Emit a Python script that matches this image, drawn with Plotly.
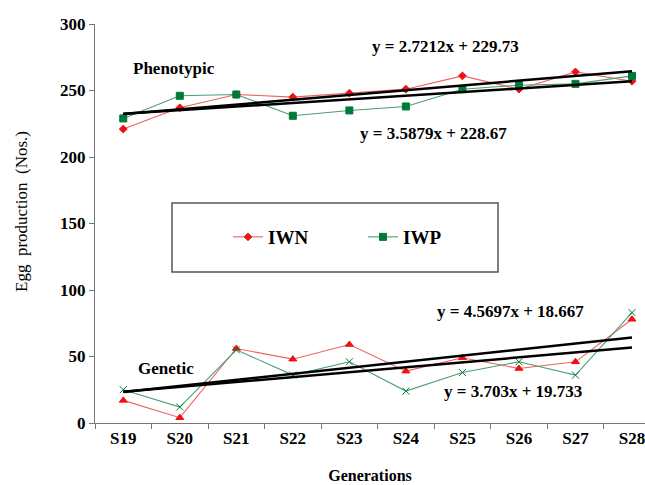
import plotly.graph_objects as go
import numpy as np

generations = ["S19", "S20", "S21", "S22", "S23", "S24", "S25", "S26", "S27", "S28"]
pheno_iwn = [221, 237, 247, 245, 248, 251, 261, 251, 264, 257]
pheno_iwp = [229, 246, 247, 231, 235, 238, 251, 254, 255, 261]
gen_iwn = [17, 4, 56, 48, 59, 39, 49, 41, 46, 78]
gen_iwp = [25, 12, 55, 36, 46, 24, 38, 46, 36, 83]

# trendline coefficients (slope, intercept) as printed on the chart
trend_pheno_iwn = (3.5879, 228.67)
trend_pheno_iwp = (2.7212, 229.73)
trend_gen_iwn = (4.5697, 18.667)
trend_gen_iwp = (3.703, 19.733)

RED_LINE = "#f06060"
RED_MK = "#ee1111"
GREEN_LINE = "#4aa070"
GREEN_MK = "#007a3a"
FONT = "Liberation Serif"

fig = go.Figure()

def add_series(y, name, lc, mc, symbol, size, show):
    fig.add_trace(go.Scatter(
        x=generations, y=y, name=name, mode="lines+markers",
        line=dict(color=lc, width=1.1),
        marker=dict(color=mc, symbol=symbol, size=size,
                    line=dict(color=mc, width=1)),
        showlegend=show,
    ))

add_series(pheno_iwn, "<b>IWN</b>", RED_LINE, RED_MK, "diamond", 6, True)
add_series(pheno_iwp, "<b>IWP</b>", GREEN_LINE, GREEN_MK, "square", 7, True)
add_series(gen_iwn, "IWN gen", RED_LINE, RED_MK, "triangle-up", 7, False)
add_series(gen_iwp, "IWP gen", GREEN_LINE, GREEN_MK, "x-thin", 7, False)

xs = np.arange(1, len(generations) + 1)
for (m, c) in [trend_pheno_iwn, trend_pheno_iwp, trend_gen_iwn, trend_gen_iwp]:
    fig.add_trace(go.Scatter(
        x=generations, y=m * xs + c, mode="lines",
        line=dict(color="black", width=2.5), showlegend=False, hoverinfo="skip"))

def px_x(p):
    return (p - 95) / 550.0

def px_y(p):
    return (423 - p) / 399.0

annos = [
    ("y = 2.7212x + 229.73", 445, 46),
    ("Phenotypic", 174, 68),
    ("y = 3.5879x + 228.67", 433, 133),
    ("y = 4.5697x + 18.667", 510, 311),
    ("Genetic", 166, 368),
    ("y = 3.703x + 19.733", 513, 391),
]
for t, ax, ay in annos:
    fig.add_annotation(text="<b>%s</b>" % t, x=px_x(ax), y=px_y(ay),
                       xref="paper", yref="paper", showarrow=False,
                       xanchor="center", yanchor="middle",
                       font=dict(family=FONT, size=17, color="black"))

fig.add_shape(type="rect", xref="paper", yref="paper",
              x0=px_x(172), x1=px_x(498), y0=px_y(272), y1=px_y(203),
              line=dict(color="#555555", width=1.5), fillcolor="white", layer="below")

fig.add_annotation(text="Egg&nbsp;&nbsp;production&nbsp;&nbsp;(Nos.)", x=px_x(21), y=px_y(212),
                   xref="paper", yref="paper", showarrow=False, textangle=-90,
                   xanchor="center", yanchor="middle",
                   font=dict(family=FONT, size=17, color="black"))

fig.update_layout(
    width=645, height=485,
    margin=dict(l=95, r=0, t=24, b=62),
    plot_bgcolor="white", paper_bgcolor="white",
    font=dict(family=FONT, color="black"),
    legend=dict(orientation="h", x=px_x(228), y=px_y(237), xanchor="left", yanchor="middle",
                bgcolor="rgba(0,0,0,0)", font=dict(family=FONT, size=19),
                entrywidth=90, itemwidth=30),
    xaxis=dict(type="category", range=[-0.5, 9.23], showline=True, linecolor="#777777",
               linewidth=1, ticks="outside", ticklen=5, tickcolor="#777777",
               tickson="boundaries", showgrid=False, zeroline=False,
               tickfont=dict(family=FONT, size=17),
               tickprefix="<b>", ticksuffix="</b>",
               title=dict(text="<b>Generations</b>", font=dict(family=FONT, size=16), standoff=22)),
    yaxis=dict(range=[0, 300], dtick=50, showline=True, linecolor="#777777", linewidth=1,
               ticks="outside", ticklen=5, tickcolor="#777777", showgrid=False, zeroline=False,
               tickfont=dict(family=FONT, size=17),
               tickprefix="<b>", ticksuffix="</b>", tickformat="d"),
)

fig.write_html("out.html")
